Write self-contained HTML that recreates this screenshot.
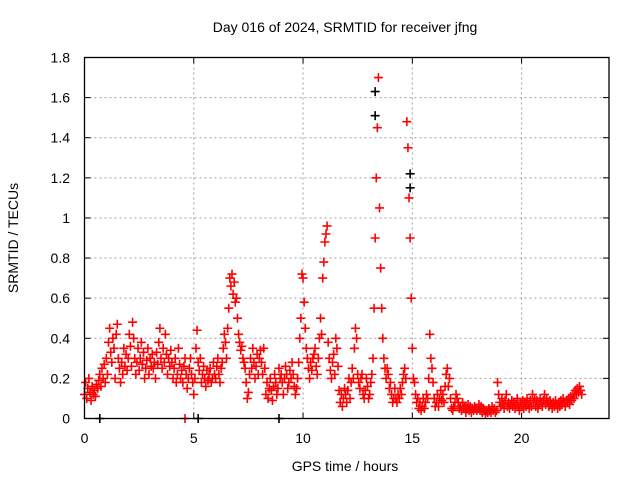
<!DOCTYPE html>
<html><head><meta charset="utf-8"><style>
body{margin:0;background:#fff}
svg text{font-family:"Liberation Sans",sans-serif;font-size:14px;fill:#000}
</style></head><body>
<svg id="c" width="640" height="480" xmlns="http://www.w3.org/2000/svg">
<rect width="640" height="480" fill="#fff"/>
<text x="345" y="32" text-anchor="middle">Day 016 of 2024, SRMTID for receiver jfng</text>
<text x="18" y="238" text-anchor="middle" transform="rotate(-90 18 238)">SRMTID / TECUs</text>
<text x="345" y="471" text-anchor="middle">GPS time / hours</text>
<g id="grid"></g><g id="ticks"></g><g id="marks"></g>
<rect x="84.5" y="57.5" width="524.5" height="361" fill="none" stroke="#000" stroke-width="1.3"/>
</svg>
<script>
const xTicks=[0,5,10,15,20];
const yTicks=[0,0.2,0.4,0.6,0.8,1,1.2,1.4,1.6,1.8];
const yTickLabels=["0","0.2","0.4","0.6","0.8","1","1.2","1.4","1.6","1.8"];
const tStart=0, tStep=0.05;
const srmtid=[
0.12,0.18,0.10,0.15,0.20,0.13,0.09,0.16,0.12,0.14,0.11,0.17,0.15,0.19,0.22,0.16,0.25,0.20,0.27,0.18,
0.30,0.22,0.38,0.45,0.33,0.28,0.40,0.35,0.20,0.42,0.47,0.30,0.25,0.18,0.28,0.22,0.35,0.26,0.32,0.24,
0.30,0.42,0.36,0.26,0.48,0.40,0.30,0.22,0.28,0.35,0.24,0.30,0.38,0.27,0.33,0.20,0.25,0.29,0.35,0.22,
0.30,0.26,0.32,0.25,0.28,0.20,0.33,0.27,0.38,0.45,0.30,0.25,0.35,0.28,0.42,0.32,0.22,0.30,0.26,0.34,
0.28,0.20,0.25,0.30,0.18,0.22,0.35,0.27,0.20,0.24,0.18,0.26,0.30,0.22,0.15,0.20,0.25,0.30,0.22,0.18,
0.12,0.20,0.35,0.44,0.28,0.24,0.30,0.18,0.22,0.26,0.20,0.16,0.24,0.19,0.22,0.25,0.18,0.20,0.28,0.22,
0.20,0.26,0.30,0.22,0.18,0.25,0.28,0.35,0.42,0.38,0.30,0.45,0.55,0.70,0.66,0.72,0.62,0.68,0.58,0.60,
0.50,0.42,0.38,0.34,0.36,0.30,0.28,0.25,0.18,0.10,0.13,0.22,0.30,0.25,0.35,0.28,0.20,0.26,0.32,0.22,
0.30,0.34,0.28,0.22,0.35,0.25,0.12,0.18,0.10,0.15,0.20,0.14,0.09,0.16,0.22,0.18,0.12,0.15,0.25,0.20,
0.22,0.18,0.12,0.20,0.26,0.22,0.15,0.18,0.24,0.20,0.28,0.22,0.16,0.12,0.15,0.20,0.28,0.40,0.50,0.72,
0.70,0.58,0.45,0.35,0.30,0.25,0.20,0.28,0.24,0.30,0.32,0.35,0.26,0.22,0.30,0.40,0.50,0.42,0.70,0.78,
0.88,0.92,0.96,0.38,0.30,0.24,0.20,0.28,0.32,0.22,0.40,0.35,0.26,0.14,0.08,0.12,0.06,0.10,0.15,0.12,
0.08,0.14,0.20,0.10,0.18,0.25,0.20,0.35,0.45,0.40,0.22,0.18,0.15,0.20,0.22,0.12,0.10,0.14,0.20,0.16,
0.10,0.12,0.18,0.22,0.30,0.55,0.90,1.20,1.45,1.70,1.05,0.75,0.55,0.40,0.30,0.25,0.20,0.25,0.22,0.15,
0.18,0.12,0.08,0.10,0.15,0.10,0.08,0.12,0.10,0.15,0.12,0.18,0.22,0.25,0.20,1.48,1.35,1.10,0.90,0.60,
0.35,0.20,0.18,0.12,0.08,0.10,0.05,0.08,0.04,0.06,0.10,0.05,0.08,0.12,0.10,0.20,0.42,0.30,0.25,0.18,
0.10,0.06,0.08,0.12,0.06,0.10,0.14,0.09,0.12,0.08,0.16,0.22,0.25,0.16,0.20,0.10,0.05,0.04,0.06,0.08,
0.12,0.10,0.08,0.05,0.06,0.04,0.08,0.05,0.06,0.03,0.05,0.07,0.04,0.06,0.03,0.05,0.04,0.06,0.05,0.04,
0.05,0.07,0.04,0.06,0.03,0.05,0.04,0.02,0.04,0.03,0.05,0.04,0.03,0.06,0.04,0.05,0.03,0.04,0.18,0.12,
0.08,0.06,0.10,0.07,0.05,0.09,0.12,0.06,0.08,0.05,0.07,0.09,0.06,0.08,0.05,0.07,0.10,0.06,0.04,0.08,
0.06,0.09,0.05,0.08,0.06,0.10,0.07,0.05,0.09,0.06,0.12,0.08,0.10,0.06,0.09,0.05,0.07,0.10,0.08,0.06,
0.09,0.12,0.07,0.10,0.08,0.06,0.09,0.07,0.05,0.08,0.06,0.09,0.07,0.05,0.08,0.06,0.09,0.07,0.10,0.08,
0.06,0.09,0.08,0.10,0.07,0.11,0.09,0.12,0.10,0.14,0.12,0.15,0.13,0.16,0.14,0.12
];
const blackTimes=[0.7,5.2,8.9,13.3,13.3,14.9,14.9];
const blackValues=[0.0,0.0,0.0,1.63,1.51,1.22,1.15];
const zeroTimes=[4.6];
const zeroValues=[0];

const X0=84.5,X1=609,Y0=418.5,Y1=57.5,xMax=24,yMax=1.8;
const xs=v=>X0+(X1-X0)*v/xMax;
const ys=v=>Y0-(Y0-Y1)*v/yMax;
const NS="http://www.w3.org/2000/svg";
const mk=(t,a,p)=>{const e=document.createElementNS(NS,t);for(const k in a)e.setAttribute(k,a[k]);p.appendChild(e);return e;};
const grid=document.getElementById('grid'),ticks=document.getElementById('ticks'),marks=document.getElementById('marks');
xTicks.forEach(v=>{
  const x=xs(v);
  if(v>0){const g=mk('line',{x1:x,x2:x,y1:Y1,y2:Y0,stroke:'#a0a0a0','stroke-dasharray':'2,3'},grid);
  
  }
  mk('line',{x1:x,x2:x,y1:Y0,y2:Y0-6,stroke:'#000'},ticks);
  mk('line',{x1:x,x2:x,y1:Y1,y2:Y1+6,stroke:'#000'},ticks);
  const t=mk('text',{x:x,y:443,'text-anchor':'middle'},ticks);t.textContent=v;
  
  
});
yTicks.forEach((v,i)=>{
  const y=ys(v);
  if(v>0&&v<1.8){const g=mk('line',{x1:X0,x2:X1,y1:y,y2:y,stroke:'#a0a0a0','stroke-dasharray':'2,3'},grid);
  
  }
  mk('line',{x1:X0,x2:X0+6,y1:y,y2:y,stroke:'#000'},ticks);
  mk('line',{x1:X1,x2:X1-6,y1:y,y2:y,stroke:'#000'},ticks);
  const t=mk('text',{x:70,y:y+5,'text-anchor':'end'},ticks);t.textContent=yTickLabels[i];
  
  
});
function plus(t,v,col,name){
  const x=xs(t),y=ys(v);
  const p=mk('path',{d:`M${x-4.5},${y}H${x+4.5}M${x},${y-4.5}V${y+4.5}`,stroke:col,'stroke-width':1.6,fill:'none'},marks);
  
  
}
blackTimes.forEach((t,i)=>plus(t,blackValues[i],'#000','black-point'));
srmtid.forEach((v,i)=>plus(tStart+i*tStep,v,'#ff0000','srmtid-point'));
zeroTimes.forEach((t,i)=>plus(t,zeroValues[i],'#ff0000','srmtid-point'));
</script>
</body></html>
